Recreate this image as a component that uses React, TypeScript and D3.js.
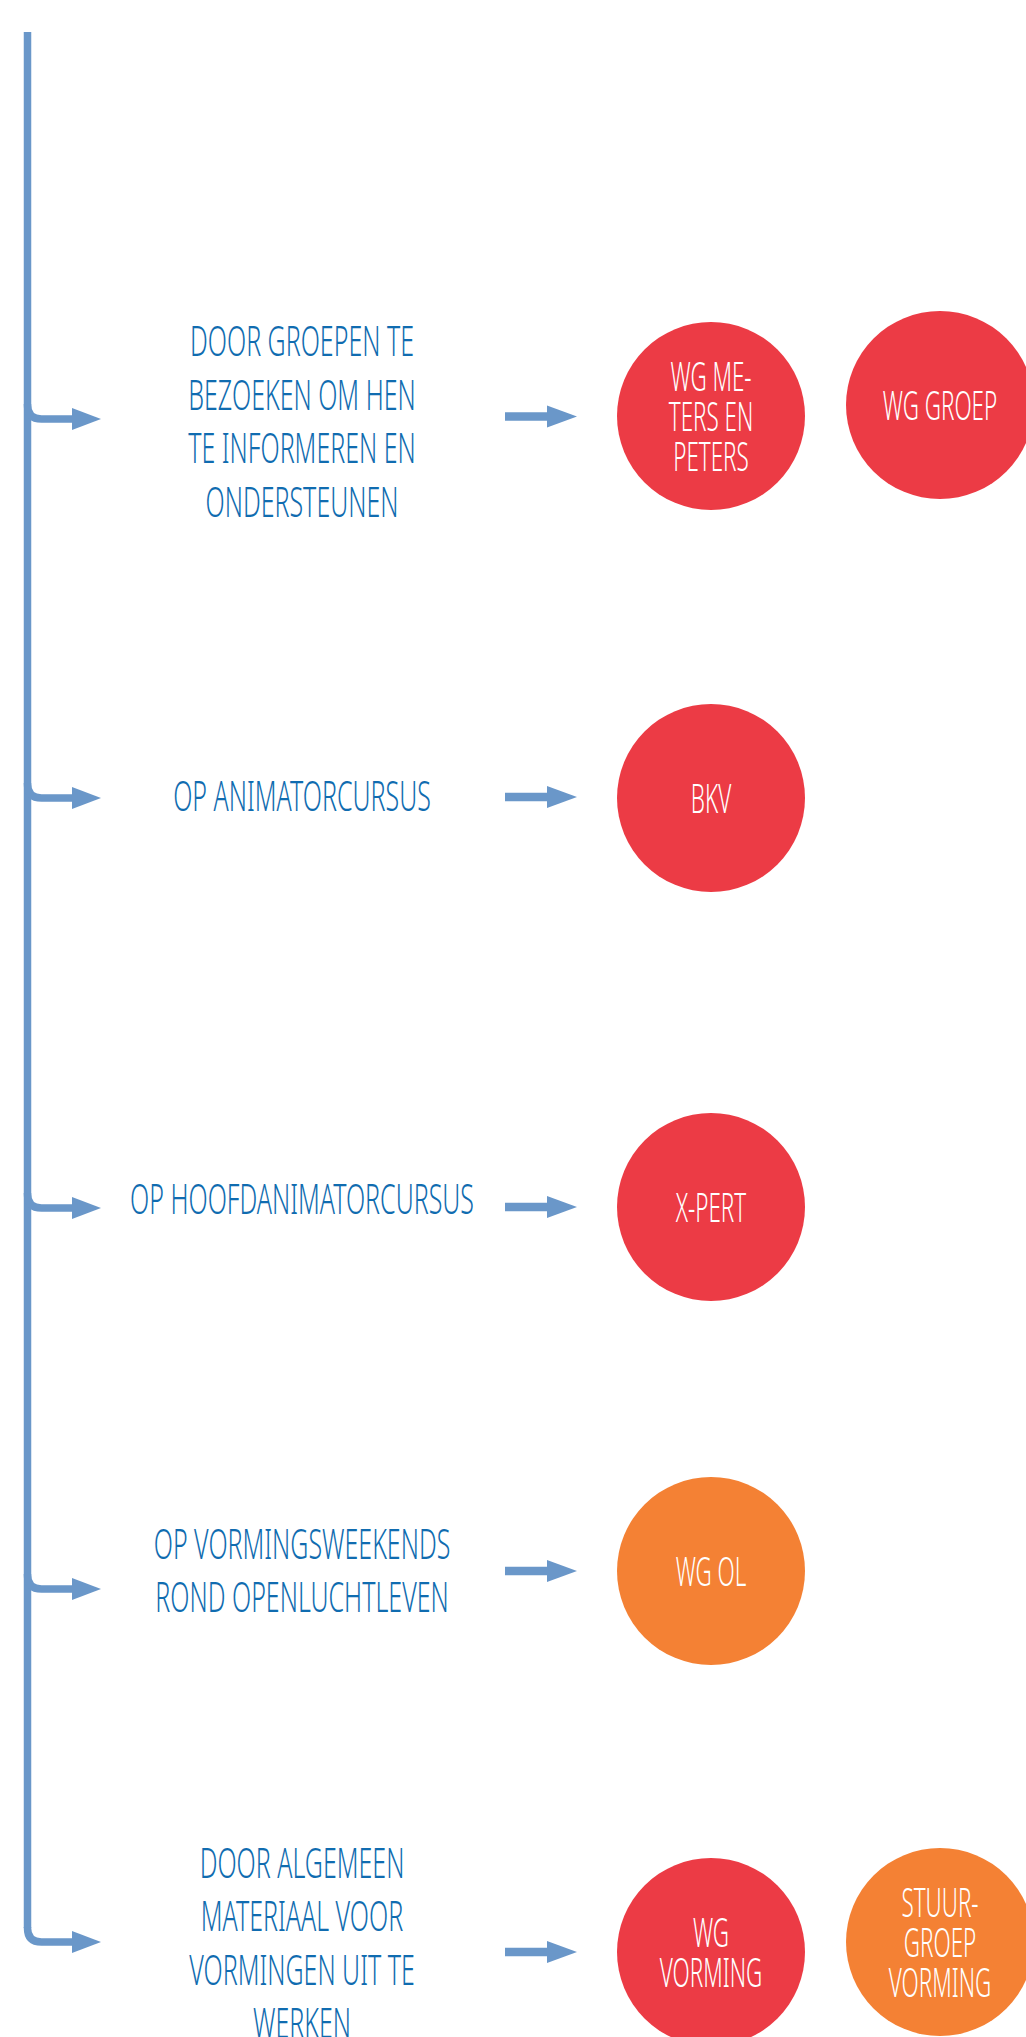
import React from 'react';
import * as d3 from 'd3';

const W = 1026;
const H = 2037;

// ---- content ----
const methodLabels: string[][] = [
  ['DOOR GROEPEN TE', 'BEZOEKEN OM HEN', 'TE INFORMEREN EN', 'ONDERSTEUNEN'],
  ['OP ANIMATORCURSUS'],
  ['OP HOOFDANIMATORCURSUS'],
  ['OP VORMINGSWEEKENDS', 'ROND OPENLUCHTLEVEN'],
  ['DOOR ALGEMEEN', 'MATERIAAL VOOR', 'VORMINGEN UIT TE', 'WERKEN'],
];

const groupLabels: string[][][] = [
  [['WG ME-', 'TERS EN', 'PETERS'], ['WG GROEP']],
  [['BKV']],
  [['X-PERT']],
  [['WG OL']],
  [['WG', 'VORMING'], ['STUUR-', 'GROEP', 'VORMING']],
];

const groupKinds: string[][] = [
  ['werkgroep', 'werkgroep'],
  ['werkgroep'],
  ['werkgroep'],
  ['openlucht'],
  ['werkgroep', 'stuurgroep'],
];

const kindDomain = ['werkgroep', 'openlucht', 'stuurgroep'];
const kindColors = ['#EC3B45', '#F48134', '#F48134'];

// ---- layout ----
const branchY = [419, 798, 1208, 1589, 1942];
const arrowY = [416.5, 797, 1207, 1571, 1952];
const textCenterY = [421.5, 796, 1198.5, 1570.5, 1943];
const circleY = [[416, 405], [798], [1207], [1571], [1952, 1942]];
const circleXs = [711, 940];

const LINE = '#6A97C9';
const TEXT = '#106CB0';
const lineX = 27.5;
const lineTop = 32;
const cornerR = 14;
const stroke = 7.5;
const textCX = 302;
const sx = 0.595;
const R = 94;

export default function App() {
  const color = d3.scaleOrdinal<string, string>().domain(kindDomain).range(kindColors);

  const lastY = branchY[branchY.length - 1];
  const trunk = d3.path();
  trunk.moveTo(lineX, lineTop);
  trunk.lineTo(lineX, lastY - cornerR);

  const branches = branchY.map((y) => {
    const p = d3.path();
    p.moveTo(lineX, y - cornerR - 1);
    p.lineTo(lineX, y - cornerR);
    p.quadraticCurveTo(lineX, y, lineX + cornerR, y);
    p.lineTo(73, y);
    return p.toString();
  });

  const renderLines = (lines: string[], cx: number, cy: number, lh: number, cap: number, fs: number, fill: string, scale: number) =>
    lines.map((t, i) => {
      const base = cy - ((lines.length - 1) / 2) * lh + cap / 2 + i * lh;
      return (
        <text
          key={i}
          transform={`translate(${cx},${base}) scale(${scale},1)`}
          textAnchor="middle"
          fontFamily="'Noto Sans', 'Open Sans', sans-serif"
          fontWeight={300}
          fontSize={fs}
          fill={fill}
        >
          {t}
        </text>
      );
    });

  return (
    <svg width={W} height={H} style={{ position: 'absolute', left: 0, top: 0, background: '#fff' }}>
      <rect x={0} y={0} width={W} height={H} fill="#ffffff" />
      <path d={trunk.toString()} stroke={LINE} strokeWidth={stroke} fill="none" />
      {branches.map((d, i) => (
        <g key={`b${i}`}>
          <path d={d} stroke={LINE} strokeWidth={stroke} fill="none" />
          <polygon
            points={`72,${branchY[i] - 11} 101,${branchY[i]} 72,${branchY[i] + 11}`}
            fill={LINE}
          />
        </g>
      ))}
      {methodLabels.map((lines, i) => (
        <g key={`t${i}`}>{renderLines(lines, textCX, textCenterY[i], 53.5, 30, 42, TEXT, sx)}</g>
      ))}
      {arrowY.map((y, i) => (
        <g key={`a${i}`}>
          <line x1={505} x2={549} y1={y} y2={y} stroke={LINE} strokeWidth={8.5} />
          <polygon points={`547,${y - 11} 577,${y} 547,${y + 11}`} fill={LINE} />
        </g>
      ))}
      {groupLabels.map((groups, i) =>
        groups.map((lines, j) => (
          <g key={`c${i}-${j}`}>
            <circle cx={circleXs[j]} cy={circleY[i][j]} r={R} fill={color(groupKinds[i][j])} />
            {renderLines(lines, circleXs[j], circleY[i][j], 40, 29, 40, '#ffffff', 0.56)}
          </g>
        ))
      )}
    </svg>
  );
}
